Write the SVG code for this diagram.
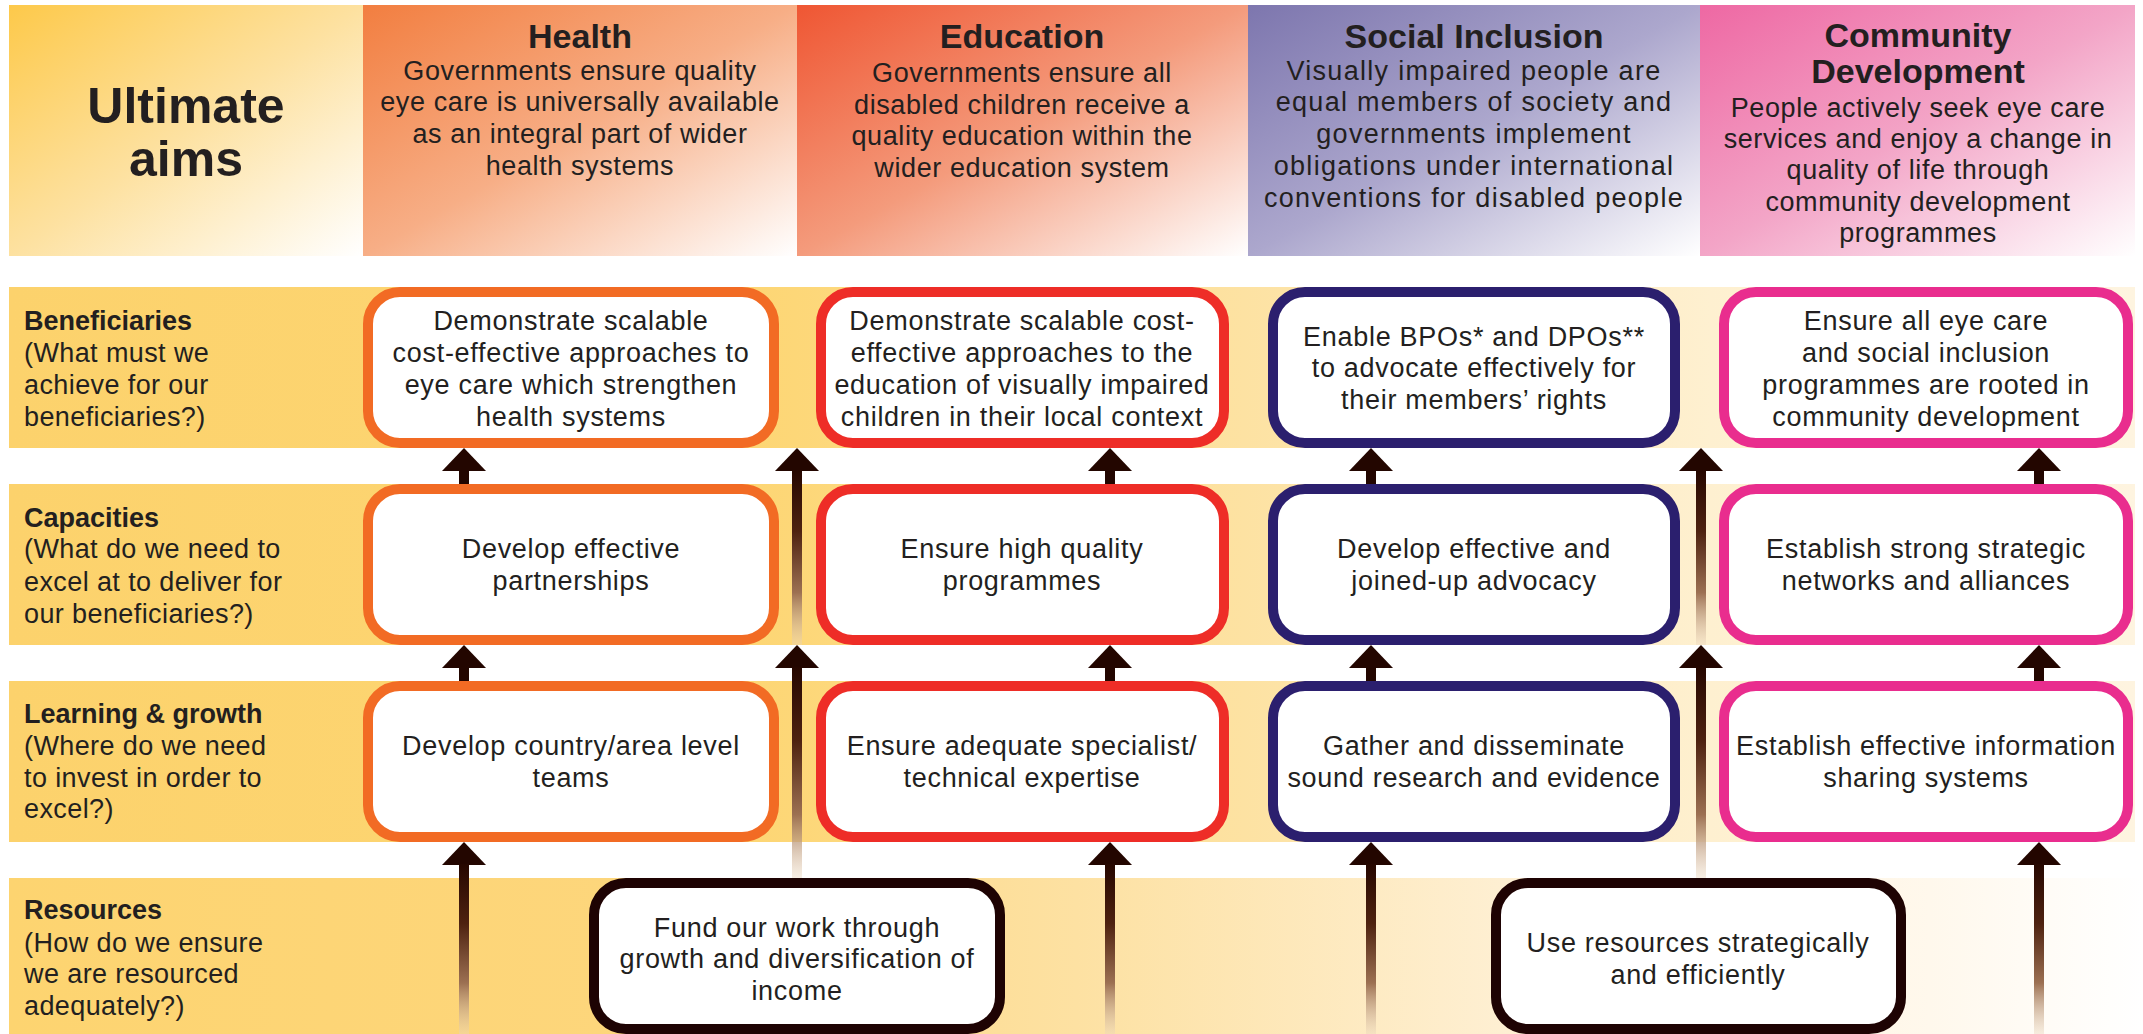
<svg xmlns="http://www.w3.org/2000/svg" width="2143" height="1034" viewBox="0 0 2143 1034">
<defs>
<linearGradient id="gUlt" x1="0" y1="0" x2="1" y2="1"><stop offset="0" stop-color="#FDC94A"/><stop offset="0.5" stop-color="#FDE1A0"/><stop offset="1" stop-color="#FFFFFF"/></linearGradient>
<linearGradient id="gHealth" x1="0" y1="0" x2="1" y2="1"><stop offset="0" stop-color="#F27E40"/><stop offset="0.5" stop-color="#F7AE86"/><stop offset="1" stop-color="#FFFFFF"/></linearGradient>
<linearGradient id="gEdu" x1="0" y1="0" x2="1" y2="1"><stop offset="0" stop-color="#EF5633"/><stop offset="0.5" stop-color="#F49B7C"/><stop offset="1" stop-color="#FFFFFF"/></linearGradient>
<linearGradient id="gSoc" x1="0" y1="0" x2="1" y2="1"><stop offset="0" stop-color="#7D76AE"/><stop offset="0.5" stop-color="#ACA7CD"/><stop offset="1" stop-color="#FFFFFF"/></linearGradient>
<linearGradient id="gCom" x1="0" y1="0" x2="1" y2="1"><stop offset="0" stop-color="#EE68A3"/><stop offset="0.5" stop-color="#F3A5C7"/><stop offset="1" stop-color="#FFFFFF"/></linearGradient>
<linearGradient id="gBand" gradientUnits="userSpaceOnUse" x1="9" y1="0" x2="2135" y2="0"><stop offset="0" stop-color="#FCD26C"/><stop offset="0.35" stop-color="#FDD674"/><stop offset="0.6" stop-color="#FDE3A6"/><stop offset="0.8" stop-color="#FEF0D0"/><stop offset="1" stop-color="#FEF4E0"/></linearGradient>
<linearGradient id="gRes" gradientUnits="userSpaceOnUse" x1="9" y1="0" x2="2143" y2="0"><stop offset="0" stop-color="#FDD470"/><stop offset="0.3" stop-color="#FDD67C"/><stop offset="0.5" stop-color="#FDE1A2"/><stop offset="0.7" stop-color="#FEEFD2"/><stop offset="0.9" stop-color="#FFF8EC"/><stop offset="1" stop-color="#FFFFFF"/></linearGradient>
<linearGradient id="gShaft" x1="0" y1="0" x2="0" y2="1"><stop offset="0" stop-color="#260700"/><stop offset="0.35" stop-color="#4E2210"/><stop offset="0.7" stop-color="#9C7052"/><stop offset="1" stop-color="#EBD6BC" stop-opacity="0.4"/></linearGradient>
</defs>
<style>
text{font-family:"Liberation Sans",Arial,sans-serif;fill:#231F20;}
.ttl{font-size:34px;font-weight:bold;text-anchor:middle;}
.big{font-size:50px;font-weight:bold;text-anchor:middle;}
.hd{font-size:27px;text-anchor:middle;letter-spacing:0.6px;}
.hdw{font-size:27px;text-anchor:middle;letter-spacing:1.3px;}
.lb{font-size:27px;letter-spacing:0.4px;}
.lbb{font-weight:bold;letter-spacing:0px;}
.bx{font-size:27px;text-anchor:middle;letter-spacing:0.7px;}
.box{fill:#FFFFFF;stroke-width:10;}
.h{stroke:#F26B24;}
.e{stroke:#EE2D27;}
.s{stroke:#2B1F6E;}
.c{stroke:#E92D8E;}
.r{stroke:#1E0303;}
.head{fill:#230600;}
.shaft{fill:#230600;}
.fade{fill:url(#gShaft);}
</style>

<g id="bands">
<rect x="9" y="287" width="2126" height="161" fill="url(#gBand)"/>
<rect x="9" y="484" width="2126" height="161" fill="url(#gBand)"/>
<rect x="9" y="681" width="2126" height="161" fill="url(#gBand)"/>
<rect x="9" y="878" width="2134" height="156" fill="url(#gRes)"/>
</g>

<g id="header-ultimate">
<rect x="9" y="5" width="354" height="251" fill="url(#gUlt)"/>
<text class="big"><tspan x="186" y="123">Ultimate</tspan><tspan x="186" y="176">aims</tspan></text>
</g>
<g id="header-health">
<rect x="363" y="5" width="434" height="251" fill="url(#gHealth)"/>
<text class="ttl" x="580" y="48">Health</text>
<text class="hd"><tspan x="580" y="80">Governments ensure quality</tspan><tspan x="580" y="111">eye care is universally available</tspan><tspan x="580" y="143">as an integral part of wider</tspan><tspan x="580" y="175">health systems</tspan></text>
</g>
<g id="header-education">
<rect x="797" y="5" width="451" height="251" fill="url(#gEdu)"/>
<text class="ttl" x="1022" y="48">Education</text>
<text class="hd"><tspan x="1022" y="82">Governments ensure all</tspan><tspan x="1022" y="114">disabled children receive a</tspan><tspan x="1022" y="145">quality education within the</tspan><tspan x="1022" y="177">wider education system</tspan></text>
</g>
<g id="header-social">
<rect x="1248" y="5" width="452" height="251" fill="url(#gSoc)"/>
<text class="ttl" x="1474" y="48">Social Inclusion</text>
<text class="hdw"><tspan x="1474" y="80">Visually impaired people are</tspan><tspan x="1474" y="111">equal members of society and</tspan><tspan x="1474" y="143">governments implement</tspan><tspan x="1474" y="175">obligations under international</tspan><tspan x="1474" y="207">conventions for disabled people</tspan></text>
</g>
<g id="header-community">
<rect x="1700" y="5" width="435" height="251" fill="url(#gCom)"/>
<text class="ttl"><tspan x="1918" y="47">Community</tspan><tspan x="1918" y="83">Development</tspan></text>
<text class="hd"><tspan x="1918" y="117">People actively seek eye care</tspan><tspan x="1918" y="148">services and enjoy a change in</tspan><tspan x="1918" y="179">quality of life through</tspan><tspan x="1918" y="211">community development</tspan><tspan x="1918" y="242">programmes</tspan></text>
</g>

<g id="row-labels">
<text class="lb"><tspan class="lbb" x="24" y="330">Beneficiaries</tspan><tspan x="24" y="362">(What must we</tspan><tspan x="24" y="394">achieve for our</tspan><tspan x="24" y="426">beneficiaries?)</tspan></text>
<text class="lb"><tspan class="lbb" x="24" y="527">Capacities</tspan><tspan x="24" y="558">(What do we need to</tspan><tspan x="24" y="591">excel at to deliver for</tspan><tspan x="24" y="623">our beneficiaries?)</tspan></text>
<text class="lb"><tspan class="lbb" x="24" y="723">Learning &amp; growth</tspan><tspan x="24" y="755">(Where do we need</tspan><tspan x="24" y="787">to invest in order to</tspan><tspan x="24" y="818">excel?)</tspan></text>
<text class="lb"><tspan class="lbb" x="24" y="919">Resources</tspan><tspan x="24" y="952">(How do we ensure</tspan><tspan x="24" y="983">we are resourced</tspan><tspan x="24" y="1015">adequately?)</tspan></text>
</g>

<g id="connectors">
<!-- short arrows Beneficiaries <- Capacities -->
<polygon class="head" points="464,448 442,471 486,471"/><rect class="shaft" x="459" y="470" width="10" height="20"/>
<polygon class="head" points="1110,448 1088,471 1132,471"/><rect class="shaft" x="1105" y="470" width="10" height="20"/>
<polygon class="head" points="1371,448 1349,471 1393,471"/><rect class="shaft" x="1366" y="470" width="10" height="20"/>
<polygon class="head" points="2039,448 2017,471 2061,471"/><rect class="shaft" x="2034" y="470" width="10" height="20"/>
<!-- short arrows Capacities <- Learning -->
<polygon class="head" points="464,645 442,668 486,668"/><rect class="shaft" x="459" y="667" width="10" height="20"/>
<polygon class="head" points="1110,645 1088,668 1132,668"/><rect class="shaft" x="1105" y="667" width="10" height="20"/>
<polygon class="head" points="1371,645 1349,668 1393,668"/><rect class="shaft" x="1366" y="667" width="10" height="20"/>
<polygon class="head" points="2039,645 2017,668 2061,668"/><rect class="shaft" x="2034" y="667" width="10" height="20"/>
<!-- long arrows from bottom to Learning -->
<polygon class="head" points="464,842 442,865 486,865"/><rect class="fade" x="459" y="864" width="10" height="170"/>
<polygon class="head" points="1110,842 1088,865 1132,865"/><rect class="fade" x="1105" y="864" width="10" height="170"/>
<polygon class="head" points="1371,842 1349,865 1393,865"/><rect class="fade" x="1366" y="864" width="10" height="170"/>
<polygon class="head" points="2039,842 2017,865 2061,865"/><rect class="fade" x="2034" y="864" width="10" height="170"/>
<!-- long arrows between columns -->
<polygon class="head" points="797,448 775,471 819,471"/><rect class="fade" x="792" y="470" width="10" height="175"/>
<polygon class="head" points="797,645 775,668 819,668"/><rect class="fade" x="792" y="667" width="10" height="211"/>
<polygon class="head" points="1701,448 1679,471 1723,471"/><rect class="fade" x="1696" y="470" width="10" height="175"/>
<polygon class="head" points="1701,645 1679,668 1723,668"/><rect class="fade" x="1696" y="667" width="10" height="211"/>
</g>

<g id="health-beneficiaries"><rect class="box h" x="368" y="292" width="406" height="151" rx="32"/>
<text class="bx"><tspan x="571" y="330">Demonstrate scalable</tspan><tspan x="571" y="362">cost-effective approaches to</tspan><tspan x="571" y="394">eye care which strengthen</tspan><tspan x="571" y="426">health systems</tspan></text></g>
<g id="health-capacities"><rect class="box h" x="368" y="489" width="406" height="151" rx="32"/>
<text class="bx"><tspan x="571" y="558">Develop effective</tspan><tspan x="571" y="590">partnerships</tspan></text></g>
<g id="health-learning"><rect class="box h" x="368" y="686" width="406" height="151" rx="32"/>
<text class="bx"><tspan x="571" y="755">Develop country/area level</tspan><tspan x="571" y="787">teams</tspan></text></g>

<g id="education-beneficiaries"><rect class="box e" x="821" y="292" width="403" height="151" rx="32"/>
<text class="bx"><tspan x="1022" y="330">Demonstrate scalable cost-</tspan><tspan x="1022" y="362">effective approaches to the</tspan><tspan x="1022" y="394">education of visually impaired</tspan><tspan x="1022" y="426">children in their local context</tspan></text></g>
<g id="education-capacities"><rect class="box e" x="821" y="489" width="403" height="151" rx="32"/>
<text class="bx"><tspan x="1022" y="558">Ensure high quality</tspan><tspan x="1022" y="590">programmes</tspan></text></g>
<g id="education-learning"><rect class="box e" x="821" y="686" width="403" height="151" rx="32"/>
<text class="bx"><tspan x="1022" y="755">Ensure adequate specialist/</tspan><tspan x="1022" y="787">technical expertise</tspan></text></g>

<g id="social-beneficiaries"><rect class="box s" x="1273" y="292" width="402" height="151" rx="32"/>
<text class="bx"><tspan x="1474" y="346">Enable BPOs* and DPOs**</tspan><tspan x="1474" y="377">to advocate effectively for</tspan><tspan x="1474" y="409">their members’ rights</tspan></text></g>
<g id="social-capacities"><rect class="box s" x="1273" y="489" width="402" height="151" rx="32"/>
<text class="bx"><tspan x="1474" y="558">Develop effective and</tspan><tspan x="1474" y="590">joined-up advocacy</tspan></text></g>
<g id="social-learning"><rect class="box s" x="1273" y="686" width="402" height="151" rx="32"/>
<text class="bx"><tspan x="1474" y="755">Gather and disseminate</tspan><tspan x="1474" y="787">sound research and evidence</tspan></text></g>

<g id="community-beneficiaries"><rect class="box c" x="1724" y="292" width="404" height="151" rx="32"/>
<text class="bx"><tspan x="1926" y="330">Ensure all eye care</tspan><tspan x="1926" y="362">and social inclusion</tspan><tspan x="1926" y="394">programmes are rooted in</tspan><tspan x="1926" y="426">community development</tspan></text></g>
<g id="community-capacities"><rect class="box c" x="1724" y="489" width="404" height="151" rx="32"/>
<text class="bx"><tspan x="1926" y="558">Establish strong strategic</tspan><tspan x="1926" y="590">networks and alliances</tspan></text></g>
<g id="community-learning"><rect class="box c" x="1724" y="686" width="404" height="151" rx="32"/>
<text class="bx"><tspan x="1926" y="755">Establish effective information</tspan><tspan x="1926" y="787">sharing systems</tspan></text></g>

<g id="resources-fund"><rect class="box r" x="594" y="883" width="406" height="146" rx="32"/>
<text class="bx"><tspan x="797" y="937">Fund our work through</tspan><tspan x="797" y="968">growth and diversification of</tspan><tspan x="797" y="1000">income</tspan></text></g>
<g id="resources-use"><rect class="box r" x="1496" y="883" width="405" height="146" rx="32"/>
<text class="bx"><tspan x="1698" y="952">Use resources strategically</tspan><tspan x="1698" y="984">and efficiently</tspan></text></g>
</svg>
